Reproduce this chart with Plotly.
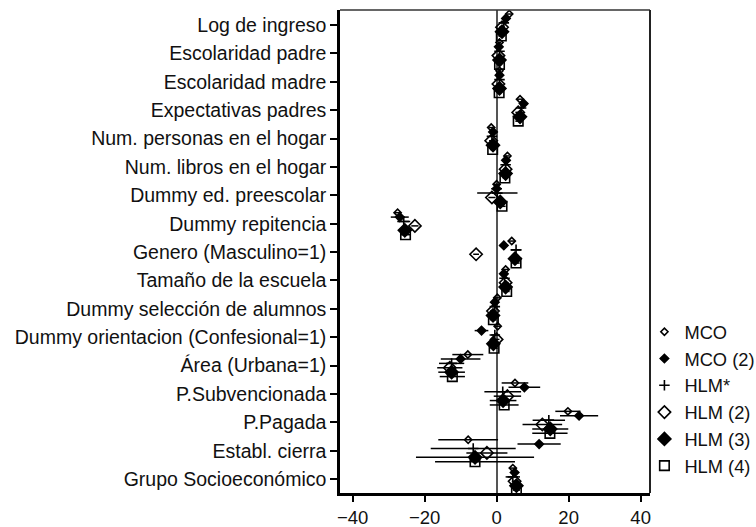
import plotly.graph_objects as go

# Regressors, listed top to bottom
categories = [
    "Log de ingreso", "Escolaridad padre", "Escolaridad madre", "Expectativas padres",
    "Num. personas en el hogar", "Num. libros en el hogar", "Dummy ed. preescolar",
    "Dummy repitencia", "Genero (Masculino=1)", "Tamaño de la escuela",
    "Dummy selección de alumnos", "Dummy orientacion (Confesional=1)", "Área (Urbana=1)",
    "P.Subvencionada", "P.Pagada", "Establ. cierra", "Grupo Socioeconómico",
]

# Point estimates per model
mco = [3.5, 0.8, 0.8, 6.5, -1.5, 3.0, 0.0, -27.5, 4.2, 2.5, 0.2, 0.3, -8.0, 5.1, 19.8, -7.9, 4.5]
mco2 = [2.6, 0.6, 0.8, 7.5, -1.0, 2.6, 0.0, -26.9, 2.0, 2.0, -0.5, -4.2, -10.0, 7.7, 22.9, 11.8, 5.0]
hlm1 = [2.0, 0.8, 0.8, 6.8, -1.3, 2.5, 0.2, -25.8, 5.4, 2.2, -0.5, -0.5, -12.5, 1.7, 14.5, -6.5, 4.5]
hlm2 = [1.5, 0.5, 0.5, 6.0, -1.5, 2.5, -1.3, -22.7, -5.7, 2.5, -1.0, 0.0, -13.0, 3.0, 12.7, -2.7, 5.0]
hlm3 = [1.5, 0.8, 0.8, 6.5, -1.0, 2.5, 1.0, -25.5, 5.1, 2.5, -1.0, -0.9, -12.5, 1.8, 14.9, -6.0, 5.5]
hlm4 = [1.3, 0.8, 0.7, 6.0, -1.1, 2.3, 1.5, -25.3, 5.4, 2.8, -0.9, -0.7, -12.3, 2.1, 14.8, -6.0, 5.5]

# Confidence interval half-widths per model
mco_ci = [0.8, 0.5, 0.5, 0.8, 0.6, 0.6, 1.0, 1.0, 0.8, 0.8, 0.8, 0.8, 4.3, 3.7, 3.5, 8.3, 0.8]
mco2_ci = [0.8, 0.5, 0.5, 0.8, 0.6, 0.6, 1.5, 2.5, 1.2, 0.8, 0.8, 1.9, 5.5, 4.4, 5.3, 6.0, 0.8]
hlm1_ci = [0.8, 0.5, 0.5, 0.8, 0.6, 0.6, 5.6, 1.8, 1.5, 0.8, 0.8, 1.0, 3.5, 5.1, 4.5, 11.8, 2.0]
hlm2_ci = [0.8, 0.5, 0.5, 0.8, 0.6, 0.6, 1.0, 1.0, 0.8, 0.8, 0.8, 0.8, 3.5, 3.8, 5.5, 5.7, 0.8]
hlm3_ci = [0.8, 0.5, 0.5, 0.8, 0.6, 0.6, 1.0, 1.5, 1.0, 0.8, 0.8, 1.0, 3.7, 3.7, 5.0, 16.4, 1.0]
hlm4_ci = [0.8, 0.5, 0.5, 0.8, 0.6, 0.6, 1.0, 1.5, 1.0, 0.8, 0.8, 1.0, 3.5, 4.0, 4.9, 11.1, 1.0]

series_names = ["MCO", "MCO (2)", "HLM*", "HLM (2)", "HLM (3)", "HLM (4)"]
estimates = [mco, mco2, hlm1, hlm2, hlm3, hlm4]
intervals = [mco_ci, mco2_ci, hlm1_ci, hlm2_ci, hlm3_ci, hlm4_ci]

# marker look for each model: (symbol, size)
styles = [
    ("diamond-open", 5.5),
    ("diamond", 6.5),
    ("cross-thin-open", 7.5),
    ("diamond-open", 9.5),
    ("diamond", 10),
    ("square-open", 9.5),
]

FONT = "Liberation Sans, Arial, sans-serif"
TXT = "#111111"
row_step = 0.155  # vertical spread between models within one row

fig = go.Figure()
n = len(series_names)
for k, (name, vals, ci, st) in enumerate(zip(series_names, estimates, intervals, styles)):
    off = (k - (n - 1) / 2) * row_step
    ypos = [i + off for i in range(len(categories))]
    fig.add_trace(go.Scatter(
        x=vals, y=ypos, mode="markers", name=name,
        error_x=dict(type="data", array=ci, symmetric=True, color="black",
                     thickness=1.5, width=0),
        marker=dict(symbol=st[0], size=st[1], color="black",
                    line=dict(color="black", width=1.6)),
        legendgroup=name,
    ))

fig.update_layout(
    width=756, height=527,
    margin=dict(l=340, r=106, t=10, b=34, autoexpand=False),
    paper_bgcolor="white", plot_bgcolor="white",
    font=dict(family=FONT, size=18.7, color=TXT),
    showlegend=True,
    legend=dict(x=0.982, xanchor="left", y=0.372, yanchor="top",
                font=dict(size=18.3, family=FONT, color=TXT),
                bgcolor="rgba(0,0,0,0)", borderwidth=0, itemwidth=30,
                tracegroupgap=0),
    xaxis=dict(
        range=[-43.5, 42.6], tickvals=[-40, -20, 0, 20, 40],
        showgrid=False, zeroline=True, zerolinecolor="#555555", zerolinewidth=1.5,
        showline=True, linecolor="black", linewidth=2.5,
        ticks="outside", ticklen=6, tickwidth=1.5, tickcolor="black",
        ticklabelstandoff=0,
        tickfont=dict(size=18.5, family=FONT, color=TXT),
    ),
    yaxis=dict(
        range=[len(categories) - 0.51, -0.53],
        tickvals=list(range(len(categories))), ticktext=categories,
        showgrid=False, zeroline=False,
        showline=True, linecolor="black", linewidth=2.5,
        ticks="outside", ticklen=7, tickwidth=1.5, tickcolor="black",
        tickfont=dict(size=19.5, family=FONT, color=TXT),
    ),
)

# top and right edges of the plot frame
fig.add_shape(type="line", xref="paper", yref="paper", x0=0, x1=1, y0=1, y1=1,
              line=dict(color="#333333", width=1.5))
fig.add_shape(type="line", xref="paper", yref="paper", x0=1, x1=1, y0=0, y1=1,
              line=dict(color="#222222", width=2))

fig.write_html("out.html")
